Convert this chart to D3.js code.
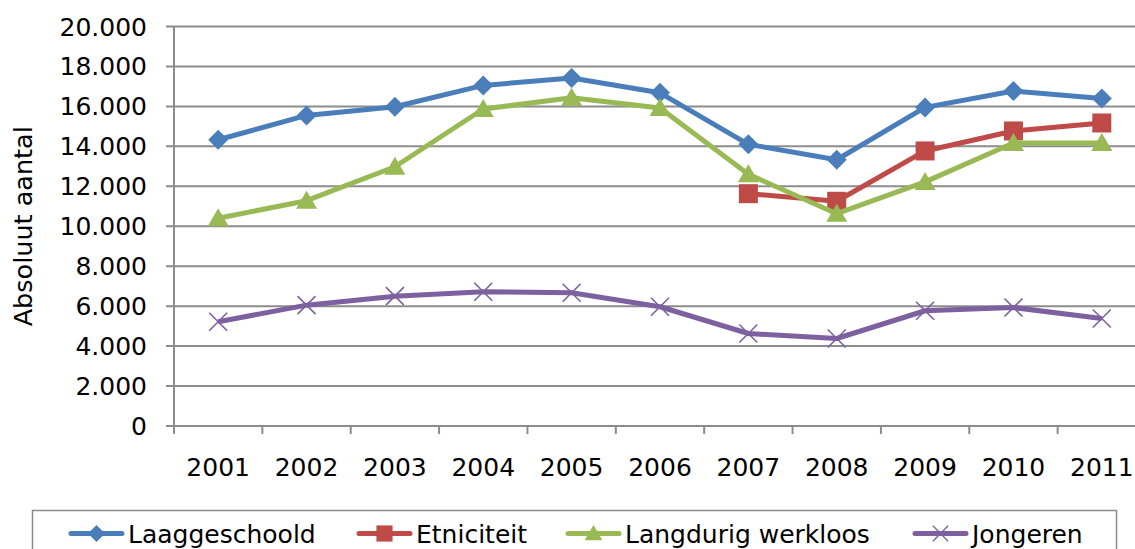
<!DOCTYPE html>
<html>
<head>
<meta charset="utf-8">
<title>Absoluut aantal</title>
<script src="https://d3js.org/d3.v7.min.js"></script>
<style>
  body { margin: 0; background: #fff; }
  text { font-family: "DejaVu Sans", sans-serif; fill: #000; }
</style>
</head>
<body>
<div id="chart"></div>
<script>
// data
var years = ["2001", "2002", "2003", "2004", "2005", "2006", "2007", "2008", "2009", "2010", "2011"];
var laaggeschoold = [14330, 15550, 15980, 17050, 17420, 16680, 14100, 13330, 15950, 16770, 16390];
var etniciteit = [null, null, null, null, null, null, 11630, 11250, 13770, 14770, 15170];
var langdurig = [10400, 11280, 12980, 15870, 16430, 15920, 12600, 10630, 12220, 14170, 14170];
var jongeren = [5220, 6050, 6500, 6720, 6670, 5970, 4630, 4380, 5770, 5930, 5380];
var yTicks = [0, 2000, 4000, 6000, 8000, 10000, 12000, 14000, 16000, 18000, 20000];

var series = [
  { name: "Laaggeschoold", values: laaggeschoold, color: "#4a7ebb", marker: "diamond" },
  { name: "Etniciteit", values: etniciteit, color: "#be4b48", marker: "square" },
  { name: "Langdurig werkloos", values: langdurig, color: "#98b954", marker: "triangle" },
  { name: "Jongeren", values: jongeren, color: "#7d60a0", marker: "cross" }
];

var width = 1135, height = 549;
var pLeft = 174, pRight = 1146, pTop = 26.5, pBottom = 426;

var svg = d3.select("#chart").append("svg")
  .attr("width", width)
  .attr("height", height);

var x = d3.scaleBand().domain(years).range([pLeft, pRight]);
var y = d3.scaleLinear().domain([0, 20000]).range([pBottom, pTop]);

var nl = d3.formatLocale({ decimal: ",", thousands: ".", grouping: [3], currency: ["€", ""] });
var fmt = nl.format(",d");

// gridlines + y axis
var gridCol = "#8c8c8c";
svg.append("g").selectAll("line")
  .data(yTicks)
  .enter().append("line")
  .attr("x1", pLeft - 8).attr("x2", pRight)
  .attr("y1", d => y(d)).attr("y2", d => y(d))
  .attr("stroke", gridCol).attr("stroke-width", 2);

svg.append("line")
  .attr("x1", pLeft).attr("x2", pLeft)
  .attr("y1", pTop).attr("y2", pBottom + 8)
  .attr("stroke", gridCol).attr("stroke-width", 2);

// x tick marks at band edges
var edges = years.map(d => x(d)).concat([pRight]);
svg.append("g").selectAll("line")
  .data(edges.slice(1))
  .enter().append("line")
  .attr("x1", d => d).attr("x2", d => d)
  .attr("y1", pBottom).attr("y2", pBottom + 8)
  .attr("stroke", gridCol).attr("stroke-width", 2);

svg.append("g").selectAll("text")
  .data(yTicks)
  .enter().append("text")
  .attr("x", 147)
  .attr("y", d => y(d))
  .attr("dy", "0.36em")
  .attr("text-anchor", "end")
  .attr("font-size", "25px")
  .text(d => fmt(d));

svg.append("g").selectAll("text")
  .data(years)
  .enter().append("text")
  .attr("x", d => x(d) + x.bandwidth() / 2)
  .attr("y", 476)
  .attr("text-anchor", "middle")
  .attr("font-size", "25px")
  .text(d => d);

svg.append("text")
  .attr("transform", "translate(32," + (pTop + pBottom) / 2 + ") rotate(-90)")
  .attr("text-anchor", "middle")
  .attr("font-size", "25.5px")
  .text("Absoluut aantal");

// lines and markers
function drawMarker(g, type, color) {
  if (type === "diamond") {
    g.append("path").attr("d", "M0,-10L10,0L0,10L-10,0Z").attr("fill", color);
  } else if (type === "square") {
    g.append("rect").attr("x", -9.5).attr("y", -9.5).attr("width", 19).attr("height", 19).attr("fill", color);
  } else if (type === "triangle") {
    g.append("path").attr("d", "M0,-10L10.5,8L-10.5,8Z").attr("fill", color);
  } else {
    g.append("path").attr("d", "M-9,-9L9,9M-9,9L9,-9").attr("stroke", color).attr("stroke-width", 1.6).attr("fill", "none");
  }
}

var line = d3.line()
  .defined(d => d.v != null)
  .x(d => x(d.year) + x.bandwidth() / 2)
  .y(d => y(d.v));

series.forEach(function(s) {
  var pts = years.map((yr, i) => ({ year: yr, v: s.values[i] }));
  svg.append("path")
    .datum(pts)
    .attr("d", line)
    .attr("fill", "none")
    .attr("stroke", s.color)
    .attr("stroke-width", 5)
    .attr("stroke-linejoin", "round");
  pts.filter(d => d.v != null).forEach(function(d) {
    var g = svg.append("g")
      .attr("transform", "translate(" + (x(d.year) + x.bandwidth() / 2) + "," + y(d.v) + ")");
    drawMarker(g, s.marker, s.color);
  });
});

// legend
svg.append("rect")
  .attr("x", 32.5).attr("y", 510.5)
  .attr("width", 1084).attr("height", 60)
  .attr("fill", "none").attr("stroke", gridCol).attr("stroke-width", 1.5);

var legX = [69, 357, 566, 913];
series.forEach(function(s, i) {
  var g = svg.append("g").attr("transform", "translate(" + legX[i] + ",533.5)");
  g.append("line").attr("x1", 2).attr("x2", 53).attr("y1", 0).attr("y2", 0)
    .attr("stroke", s.color).attr("stroke-width", 5).attr("stroke-linecap", "round");
  var m = g.append("g").attr("transform", "translate(27.5,0) scale(0.85)");
  drawMarker(m, s.marker, s.color);
  g.append("text").attr("x", 59).attr("y", 0).attr("dy", "0.36em")
    .attr("font-size", "25px").text(s.name);
});
</script>
</body>
</html>
